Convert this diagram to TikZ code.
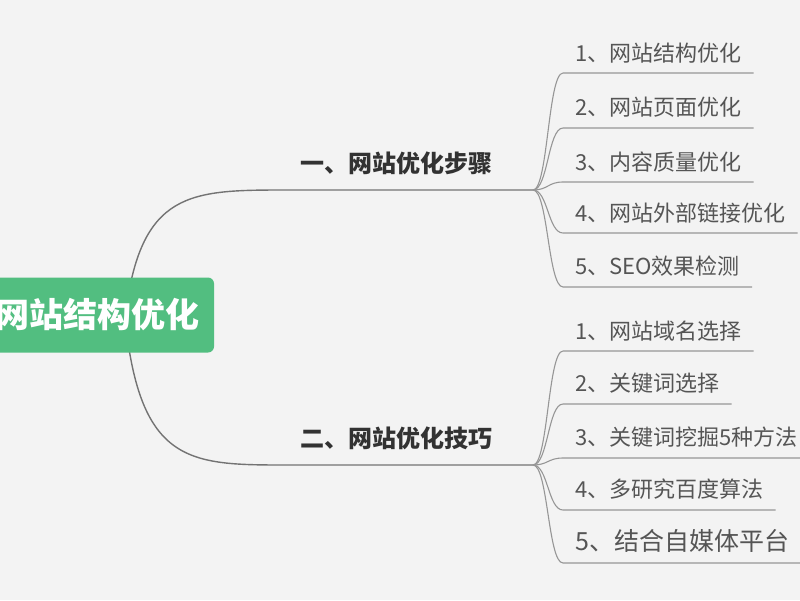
\documentclass[tikz,border=0pt]{standalone}
\usepackage{fontspec}
\setmainfont{Noto Sans CJK SC}
\usepackage{xcolor}
\usepackage{tikz}
\definecolor{mapgreen}{RGB}{82,190,128}
\definecolor{mapline}{RGB}{115,115,115}
\definecolor{mapleaf}{RGB}{150,150,150}
\definecolor{mapbg}{RGB}{243,243,243}
\definecolor{maptext}{RGB}{85,85,85}
\definecolor{mapdark}{RGB}{50,50,50}

\begin{document}
\begin{tikzpicture}[x=1pt,y=-1pt,
  root/.style={fill=mapgreen, rounded corners=6pt, text=white, inner xsep=15pt,
    minimum height=75pt, font=\fontsize{34}{37}\selectfont\bfseries},
  branch/.style={anchor=south west, inner xsep=12pt, inner ysep=15pt, text=mapdark,
    font=\fontsize{24}{28}\selectfont\bfseries},
  leaf/.style={anchor=south west, inner xsep=12pt, inner ysep=10pt, text=maptext,
    font=\fontsize{22}{26}\selectfont},
  trunk/.style={draw=mapline, line width=1.4pt},
  twig/.style={draw=mapleaf, line width=1.1pt}]
  % Canvas
  \fill[mapbg] (0,0) rectangle (800,600);
  \useasboundingbox (0,0) rectangle (800,600);
  % Hubs
  \coordinate (hub) at (125,318);
  \coordinate (fan1) at (533,190);
  \coordinate (fan2) at (533,465);
  % Main branches
  \node[branch] (b1) at (288,190) {一、网站优化步骤};
  \node[branch] (b2) at (288,465) {二、网站优化技巧};
  \draw[trunk] (hub) .. controls +(15,-128) and +(-98,0) .. (b1.south west) -- (fan1);
  \draw[trunk] (hub) .. controls +(15,147) and +(-98,0) .. (b2.south west) -- (fan2);
  % Steps
  \foreach \n/\y/\txt in {1/73/1、网站结构优化, 2/128/2、网站页面优化, 3/182/3、内容质量优化,
                          4/233/4、网站外部链接优化, 5/287/5、SEO效果检测} {
    \node[leaf] (s\n) at (563,\y) {\txt};
    \draw[twig] (fan1) .. controls +(15,0) and +(-15,0) .. (s\n.south west) -- (s\n.south east);
  }
  % Tips
  \foreach \n/\y/\txt in {1/351/1、网站域名选择, 2/404/2、关键词选择, 3/458/3、关键词挖掘5种方法,
                          4/510/4、多研究百度算法} {
    \node[leaf] (t\n) at (563,\y) {\txt};
    \draw[twig] (fan2) .. controls +(15,0) and +(-15,0) .. (t\n.south west) -- (t\n.south east);
  }
  \node[leaf, font=\fontsize{25}{29}\selectfont] (t5) at (563,563) {5、结合自媒体平台};
  \draw[twig] (fan2) .. controls +(15,0) and +(-15,0) .. (t5.south west) -- (t5.south east);
  % Root
  \node[root] (root) at (97,315) {网站结构优化};
\end{tikzpicture}
\end{document}
